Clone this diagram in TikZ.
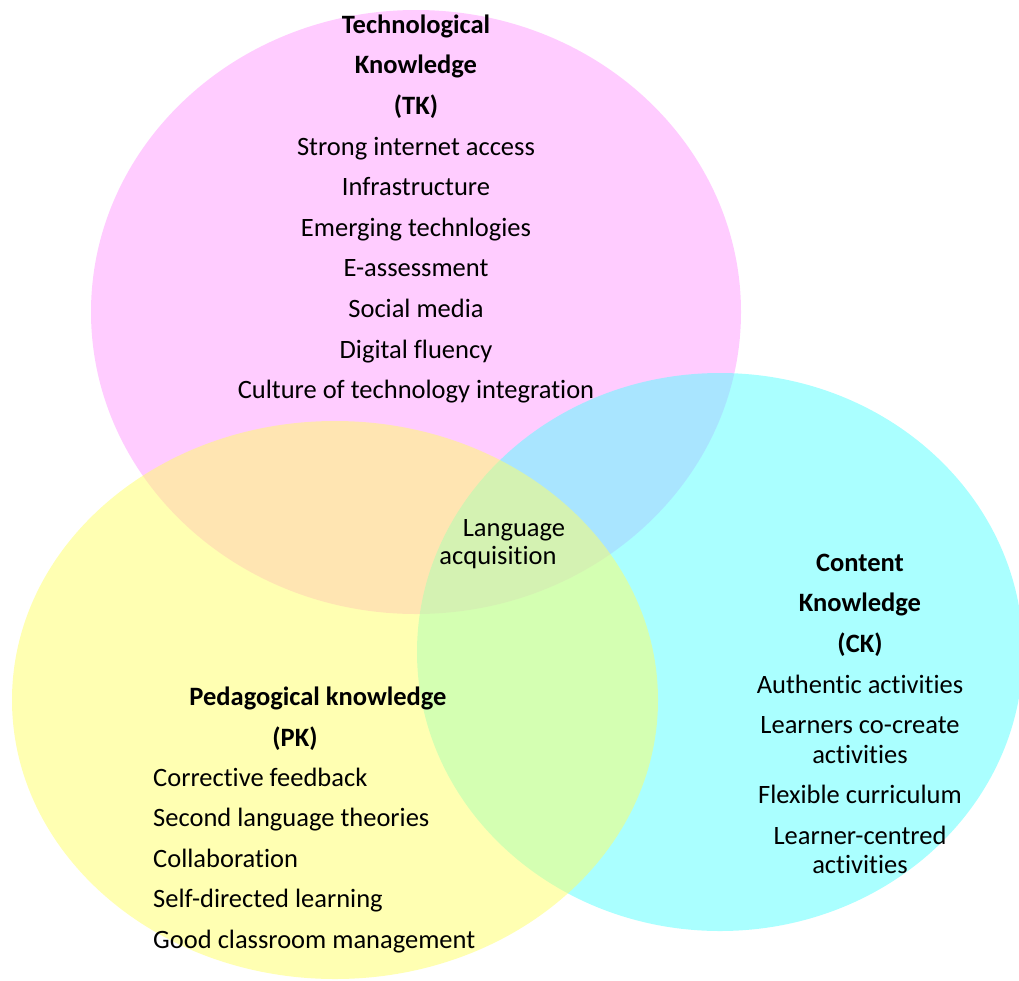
\documentclass[tikz,border=0pt]{standalone}
\usepackage{fontspec}
\setmainfont{Carlito}[Ligatures=NoCommon]
\usepackage{tikz}
\definecolor{tkpink}{HTML}{FF99FF}
\definecolor{ckcyan}{HTML}{55FFFF}
\definecolor{pkyellow}{HTML}{FFFF66}
\tikzset{
  circ/.style={fill opacity=0.5},
  item/.style={font=\fontsize{26.5}{30}\selectfont,inner sep=0pt,anchor=base},
  head/.style={item,font=\fontsize{26.5}{30}\selectfont\bfseries},
}

\begin{document}
\begin{tikzpicture}[x=1pt,y=-1pt]
\clip (0,0) rectangle (1019,980);
% the three circles
\fill[circ,tkpink] (416,312) ellipse [x radius=325pt,y radius=302pt];
\fill[circ,ckcyan] (720,652) ellipse [x radius=303pt,y radius=279pt];
\fill[circ,pkyellow] (335,700) ellipse [x radius=323pt,y radius=279pt];
% technological knowledge
\foreach \t [count=\i from 0] in {Technological,Knowledge,(TK)} {\node[head] (tkh\i) at (416,{33+40.6*\i}) {\t};}
\foreach \t [count=\i from 0] in {Strong internet access,Infrastructure,Emerging technlogies,E-assessment,Social media,Digital fluency,Culture of technology integration} {\node[item] (tk\i) at (416,{155+40.6*\i}) {\t};}
% centre
\node[item] (lang0) at (514,536) {Language};
\node[item] (lang1) at (498,564) {acquisition};
% content knowledge
\foreach \t [count=\i from 0] in {Content,Knowledge,(CK)} {\node[head] (ckh\i) at (860,{571+40.6*\i}) {\t};}
\node[item] (ck0) at (860,693) {Authentic activities};
\node[item] (ck1) at (860,733) {Learners co-create};
\node[item] (ck2) at (860,763) {activities};
\node[item] (ck3) at (860,803) {Flexible curriculum};
\node[item] (ck4) at (860,844) {Learner-centred};
\node[item] (ck5) at (860,873) {activities};
% pedagogical knowledge
\node[head] (pkh0) at (318,705) {Pedagogical knowledge};
\node[head] (pkh1) at (295,746) {(PK)};
\foreach \t [count=\i from 0] in {Corrective feedback,Second language theories,Collaboration,Self-directed learning,Good classroom management} {\node[item,anchor=base west] (pk\i) at (153,{786+40.6*\i}) {\t};}
\end{tikzpicture}
\end{document}
